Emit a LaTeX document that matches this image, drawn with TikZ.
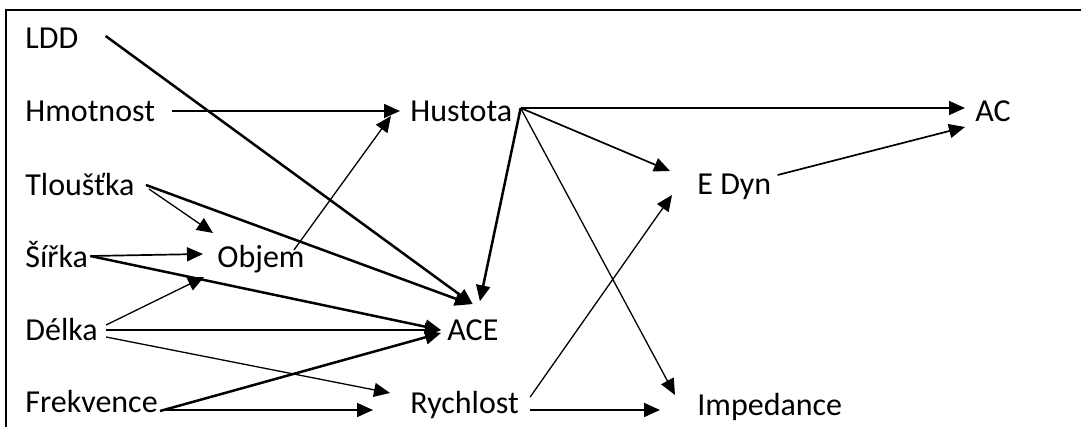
\documentclass[tikz,border=0pt]{standalone}
\usepackage{fontspec}
\setmainfont{Carlito}
\usetikzlibrary{arrows.meta, calc}

\begin{document}
\begin{tikzpicture}[x=0.5pt, y=-0.5pt,
    lbl/.style={anchor=west, inner sep=0pt, text height=10.3pt, text depth=0pt, font=\fontsize{16}{19}\selectfont},
    arr/.style={line width=0.85pt, -{Triangle[length=8pt, width=7pt]}},
    thinarr/.style={line width=0.65pt, -{Triangle[length=8pt, width=7pt]}},
    thickarr/.style={line width=1.25pt, -{Triangle[length=8pt, width=7pt]}}]

    % 0. FRAME (top and left edge only)
    \useasboundingbox (0,0) rectangle (1081,427);
    \draw[line width=1.1pt] (1081,10) -- (6,10) -- (6,427);

    % 1. INPUT VARIABLES (left column)
    \node[lbl] (ldd)   at (25,38)  {LDD};
    \node[lbl] (hmot)  at (25,111) {Hmotnost};
    \node[lbl] (tlou)  at (25,185) {Tloušťka};
    \node[lbl] (sirka) at (25,257) {Šířka};
    \node[lbl] (delka) at (25,330) {Délka};
    \node[lbl] (frek)  at (25,402) {Frekvence};

    % 2. DERIVED QUANTITIES
    \node[lbl] (objem) at (217,257) {Objem};
    \node[lbl] (hust)  at (410,111) {Hustota};
    \node[lbl] (ace)   at (447,330) {ACE};
    \node[lbl] (rych)  at (410,403) {Rychlost};
    \node[lbl] (edyn)  at (697,184) {E Dyn};
    \node[lbl] (ac)    at (975,111) {AC};
    \node[lbl] (imp)   at (697,405) {Impedance};

    % 3. INTO OBJEM AND HUSTOTA
    \draw[arr] ($(hmot.east)+(17,0)$) -- ($(hust.west)+(-10,0)$);
    \draw[thinarr] ($(tlou.east)+(14,4)$) -- ($(objem.west)+(-4,-24)$);
    \draw[arr] ($(sirka.east)+(2,-1)$) -- ($(objem.west)+(-14,-3)$);
    \draw[thinarr] ($(delka.east)+(8,-5)$) -- ($(objem.west)+(-13,20)$);
    \draw[thinarr] ($(objem.east)+(-11,-7)$) -- ($(hust.west)+(-19,5)$);

    % 4. INTO ACE
    \draw[thickarr] ($(ldd.east)+(27,-2)$) -- ($(ace.north)+(0,-15)$);
    \draw[thickarr] ($(tlou.east)+(11,0)$) -- ($(ace.north)+(-2,-15)$);
    \draw[thickarr] ($(sirka.east)+(2,-1)$) -- ($(ace.west)+(-6,0)$);
    \draw[thickarr] ($(delka.east)+(8,0)$) -- ($(ace.west)+(-6,0)$);
    \draw[thickarr] ($(frek.east)+(2,9)$) -- ($(ace.west)+(-6,3)$);
    \draw[thickarr] ($(hust.east)+(8,-3)$) -- ($(ace.north)+(7,-18)$);

    % 5. INTO RYCHLOST
    \draw[thinarr] ($(delka.east)+(8,7)$) -- ($(rych.west)+(-20,-10)$);
    \draw[arr] ($(frek.east)+(8,8)$) -- ($(rych.west)+(-37,7)$);

    % 6. RIGHT PART
    \draw[arr] ($(hust.east)+(8,-3)$) -- ($(ac.west)+(-10,-3)$);
    \draw[arr] ($(hust.east)+(8,-3)$) -- ($(edyn.west)+(-27,-13)$);
    \draw[thinarr] ($(hust.east)+(8,-3)$) -- ($(imp.west)+(-22,-10)$);
    \draw[arr] ($(edyn.east)+(6,-9)$) -- ($(ac.west)+(-10,16)$);
    \draw[thinarr] ($(rych.east)+(11,-6)$) -- ($(edyn.west)+(-25,11)$);
    \draw[arr] ($(rych.east)+(11,7)$) -- ($(imp.west)+(-37,5)$);

\end{tikzpicture}
\end{document}
